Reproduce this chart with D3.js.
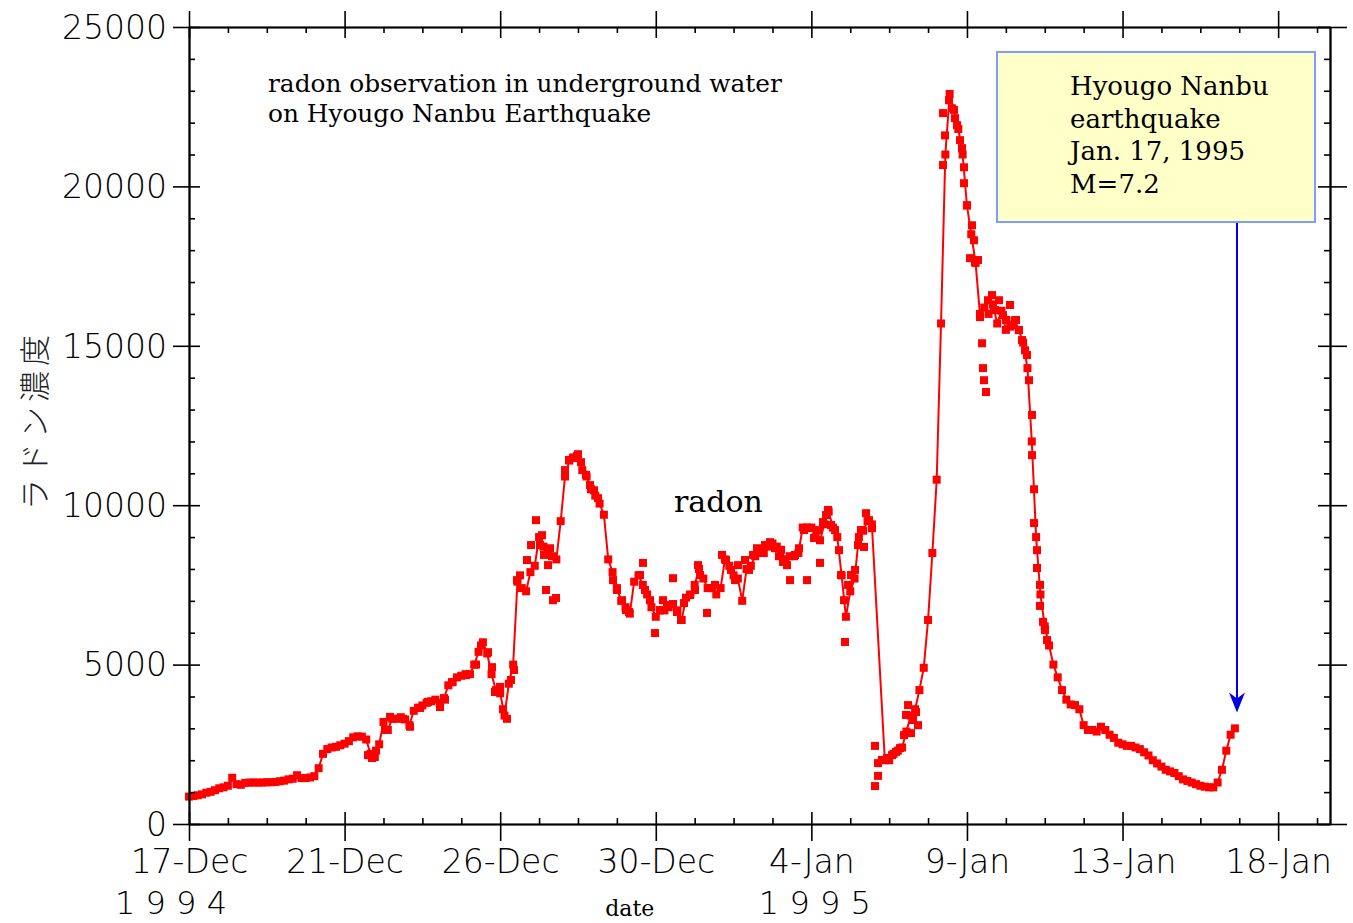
<!DOCTYPE html>
<html><head><meta charset="utf-8">
<script src="https://cdn.jsdelivr.net/npm/d3@7"></script>
<style>body{margin:0;background:#fff;overflow:hidden}</style>
</head><body><svg id="c" width="1353" height="923"></svg>
<script>
// ---- data (days since 17-Dec-1994 00:00, radon counts) ----
const stepDays = 0.125; // 3-hourly samples
const radon = [
  860, 880, 900, 930, 980, 1010, 1060, 1120,
  1150, 1200, 1450, 1250, 1230, 1290, 1300, 1300,
  1300, 1300, 1310, 1310, 1320, 1340, 1360, 1400,
  1420, 1530, 1440, 1440, 1460, 1500, 1750, 2200,
  2350, 2400, 2420, 2470, 2520, 2600, 2720, 2750,
  2740, 2650, 2200, 2100, 2500, 3200, 2950, 3300,
  3300, 3350, 3280, 3100, 3550, 3650, 3720, 3800,
  3850, 3900, 3800, 3950, 4350, 4450, 4600, 4650,
  4700, 4700, 5000, 5400, 5700, 5350, 4700, 4200,
  4100, 3400, 4400, 5000, 7600, 7400, 7300, 7900,
  8100, 9000, 8700, 8500, 8400, 8300, 9500, 10900,
  11400, 11500, 11600, 11100, 10900, 10500, 10300, 10050,
  9700, 8300, 7900, 7400, 7000, 6800, 6600, 7600,
  7800, 7500, 7200, 6800, 6500, 6700, 6700, 6800,
  6900, 6700, 6400, 7100, 7200, 7500, 8000, 7700,
  7400, 7400, 7200, 7400, 8300, 8100, 7800, 7700,
  7000, 8000, 8100, 8400, 8500, 8500, 8700, 8800,
  8700, 8600, 8300, 8400, 8400, 8500, 9300, 9300,
  9300, 9000, 8900, 9400, 9800, 9300, 9000, 7800,
  6500, 7300, 7700, 9000, 9200, 9500, 9400, null,
  null, 2000, 2000, 2200, 2300, 2400, 2900, 3400,
  3600, 4200, 4900, 6400, 8500, 10800, 15700, 21000,
  22900, 22400, 21800, 21000, 19400, 18500, 17600, 16000,
  16200, 16000, 16300, 15700, 16100, 15500, 15600, 15800,
  15500, 15100, 14300, 12000, 9000, 7200, 6200, 5600,
  5000, 4600, 4200, 3900, 3750, 3730, 3600, 3100,
  2950, 2950, 2900, 3050, 2950, 2800, 2700, 2550,
  2500, 2450, 2450, 2400, 2350, 2250, 2150, 2000,
  1900, 1800, 1700, 1650, 1600, 1500, 1400, 1350,
  1300, 1250, 1200, 1170, 1150, 1150, 1300, 1700,
  2300, 2800, 3000
];
// extra (unconnected) hourly readings: [day, value]
const radonScatter = [
  [5.177,2160],[5.293,2070],[5.409,2300],[5.669,2950],[5.814,3360],[6.190,3300],[6.392,3050],
  [6.681,3640],[6.913,3830],[7.260,3670],[7.404,3900],[7.607,4450],[8.012,4670],[8.301,5000],
  [8.446,5600],[8.648,5390],[8.764,4920],[8.850,4140],[8.995,4300],[9.082,3600],[9.197,3300],
  [9.313,4520],[9.400,4830],
  [9.487,7650],[9.574,7800],[9.776,8280],[9.892,8750],[10.036,9530],[10.152,8750],[10.210,9060],
  [10.268,8440],[10.326,7340],[10.384,8120],[10.441,8650],[10.528,7020],[10.615,7090],
  [10.875,11100],[10.990,11420],[11.106,11480],[11.222,11540],[11.338,11350],[11.482,10950],
  [11.598,10630],[11.714,10470],[11.830,10220],
  [12.264,7650],[12.379,7340],[12.524,7020],[12.639,6710],[12.726,6650],
  [13.044,7810],[13.131,8190],[13.189,7340],[13.333,7020],[13.478,5990],[13.623,6710],[13.709,7020],
  [13.825,6870],[13.999,7710],[14.114,6650],[14.230,6400],[14.317,6930],[14.490,7180],[14.635,7340],
  [14.722,8120],[14.780,7810],[14.982,6620],[15.098,7400],[15.213,7500],
  [15.416,8440],[15.531,8280],[15.676,7970],[15.792,7650],[15.879,8120],[16.081,8280],[16.197,7970],
  [16.313,8440],[16.428,8650],[16.544,8530],[16.659,8750],[16.804,8840],[16.949,8650],[17.064,8400],
  [17.180,8220],[17.296,8120],[17.383,7650],[17.527,8440],[17.643,8650],[17.788,9220],[17.875,7650],
  [17.961,9280],[18.077,8970],[18.193,9220],[18.250,8190],[18.337,9470],[18.424,9690],[18.482,9850],
  [18.568,9380],[18.684,9220],[18.800,8590],[18.858,7810],[18.945,7020],[18.973,5710],[19.060,7500],
  [19.147,7810],[19.263,7970],[19.349,8750],[19.436,9220],[19.523,8690],[19.581,9750],[19.667,9530],
  [19.754,9280],
  [19.841,2450],[19.928,1910],[19.928,1510],[19.841,1190],[20.043,2010],[20.188,2070],[20.333,2160],
  [20.448,2260],[20.564,2380],[20.680,2790],[20.738,3420],[20.796,3730],[20.882,2850],[20.940,3260],
  [21.027,3510],[21.085,3100],
  [21.808,20670],[21.865,21600],[21.808,22300],[21.981,22700],[22.068,22450],[22.155,22140],
  [22.213,21920],[22.299,21450],[22.357,21200],[22.415,20600],[22.415,20100],[22.502,19410],
  [22.646,18780],[22.704,18310],[22.589,17750],[22.733,17620],[22.820,17690],[22.878,15900],
  [22.936,15080],[22.964,14300],[22.993,13920],[23.051,13550],
  [23.109,16430],[23.225,16590],[23.312,16120],[23.427,16430],[23.543,15960],[23.630,15810],
  [23.745,16280],[23.832,15650],[23.919,15810],[24.006,15490],[24.093,15180],[24.179,14860],
  [24.237,14710],[24.295,13920],[24.382,12830],[24.382,11570],[24.440,10500],[24.440,9440],
  [24.526,8590],[24.526,8030],[24.613,7500],[24.613,6840],[24.700,6340],[24.758,6080],[24.816,5770]
];
const xTickDays = [0, 4.5, 9, 13.5, 18, 22.5, 27, 31.5];
const xTickLabels = ["17-Dec","21-Dec","26-Dec","30-Dec","4-Jan","9-Jan","13-Jan","18-Jan"];
const yTicks = [0, 5000, 10000, 15000, 20000, 25000];
const yearLabels = [{day: -0.52, text: "1 9 9 4"}, {day: 18.1, text: "1 9 9 5"}];
const quakeDay = 30.31;
const arrowTipValue = 3500;
const noteLines = ["Hyougo Nanbu", "earthquake", "Jan. 17, 1995", "M=7.2"];
const titleLines = ["radon observation in underground water", "on Hyougo Nanbu Earthquake"];

// ---- layout ----
const L = 189, R = 1330, T = 27, B = 824;
const svg = d3.select("#c");
const x = d3.scaleLinear().domain([0, 33]).range([L, R]);
const y = d3.scaleLinear().domain([0, 25000]).range([B, T]);
const sansFont = "'DejaVu Sans', sans-serif";
const serifFont = "'DejaVu Serif', serif";

// ---- data marks ----
const pts = radon.map((v, i) => ({t: i * stepDays, v})).filter(d => d.v !== null);
const red = "#ff0000";
svg.append("path").datum(pts)
  .attr("d", d3.line().x(d => x(d.t)).y(d => y(d.v)))
  .attr("fill", "none").attr("stroke", red).attr("stroke-width", 2);
const ms = 8;
const allPts = pts.concat(radonScatter.map(([t, v]) => ({t, v})));
svg.append("g").selectAll("rect").data(allPts).join("rect")
  .attr("x", d => x(d.t) - ms / 2).attr("y", d => y(d.v) - ms / 2)
  .attr("width", ms).attr("height", ms).attr("fill", red);

// ---- axes ----
const yMinor = d3.range(0, 25001, 1000).filter(v => v % 5000 !== 0);
const xMinor = d3.range(0, 33.01, 1.125).filter(d => xTickDays.indexOf(d) < 0);
function styleAxis(g) {
  g.selectAll("path.domain").attr("stroke", "#000").attr("stroke-width", 1.6);
  g.selectAll("line").attr("stroke", "#000").attr("stroke-width", 1.6);
}
// left
const gl = svg.append("g").attr("transform", `translate(${L},0)`);
gl.call(d3.axisLeft(y).tickValues(yTicks).tickSize(16).tickPadding(6).tickSizeOuter(0).tickFormat(d => String(d)));
gl.append("g").call(d3.axisRight(y).tickValues(yTicks).tickSize(11).tickSizeOuter(0).tickFormat(""));
gl.append("g").call(d3.axisRight(y).tickValues(yMinor).tickSize(6).tickSizeOuter(0).tickFormat(""));
gl.selectAll("text").attr("font-family", sansFont).attr("font-weight", 200)
  .attr("font-size", 33).attr("fill", "#000").attr("dy", "0.34em");
styleAxis(gl);
// right
const gr = svg.append("g").attr("transform", `translate(${R},0)`);
gr.call(d3.axisRight(y).tickValues(yTicks).tickSize(17).tickSizeOuter(0).tickFormat(""));
gr.append("g").call(d3.axisLeft(y).tickValues(yTicks).tickSize(12).tickSizeOuter(0).tickFormat(""));
gr.append("g").call(d3.axisLeft(y).tickValues(yMinor).tickSize(6).tickSizeOuter(0).tickFormat(""));
styleAxis(gr);
// bottom
const gb = svg.append("g").attr("transform", `translate(0,${B})`);
gb.call(d3.axisBottom(x).tickValues(xTickDays).tickSize(17).tickPadding(9).tickSizeOuter(0)
  .tickFormat((d, i) => xTickLabels[i]));
gb.append("g").call(d3.axisTop(x).tickValues(xTickDays).tickSize(12).tickSizeOuter(0).tickFormat(""));
gb.append("g").call(d3.axisTop(x).tickValues(xMinor).tickSize(6).tickSizeOuter(0).tickFormat(""));
gb.selectAll("text").attr("font-family", sansFont).attr("font-weight", 200)
  .attr("font-size", 33).attr("fill", "#000");
styleAxis(gb);
// top
const gt = svg.append("g").attr("transform", `translate(0,${T})`);
gt.call(d3.axisTop(x).tickValues(xTickDays).tickSize(16).tickSizeOuter(0).tickFormat(""));
gt.append("g").call(d3.axisBottom(x).tickValues(xTickDays).tickSize(11).tickSizeOuter(0).tickFormat(""));
gt.append("g").call(d3.axisBottom(x).tickValues(xMinor).tickSize(6).tickSizeOuter(0).tickFormat(""));
styleAxis(gt);

// year labels and axis titles
svg.append("g").selectAll("text").data(yearLabels).join("text")
  .attr("x", d => x(d.day)).attr("y", 914).attr("text-anchor", "middle")
  .attr("font-family", sansFont).attr("font-weight", 200).attr("font-size", 32)
  .style("white-space", "pre").text(d => d.text);
svg.append("text").attr("x", x(13.5) - 26).attr("y", 916).attr("text-anchor", "middle")
  .attr("font-family", serifFont).attr("font-size", 22).text("date");
svg.append("text").attr("transform", "translate(46,420) rotate(-90)")
  .attr("text-anchor", "middle").attr("font-family", "'Noto Sans CJK JP', sans-serif")
  .attr("font-size", 31).attr("font-weight", 300).attr("letter-spacing", 5).attr("fill", "#222")
  .text("ラドン濃度");

// title
svg.append("g").selectAll("text").data(titleLines).join("text")
  .attr("x", 268).attr("y", (d, i) => 92 + i * 30)
  .attr("font-family", serifFont).attr("font-size", 24.8).text(d => d);
// series label
svg.append("text").attr("x", 674).attr("y", 512).attr("font-family", serifFont)
  .attr("font-size", 30).text("radon");

// annotation box
svg.append("rect").attr("x", 997).attr("y", 52).attr("width", 318).attr("height", 170)
  .attr("fill", "#ffffc8").attr("stroke", "#7f9cff").attr("stroke-width", 2);
svg.append("g").selectAll("text").data(noteLines).join("text")
  .attr("x", 1070).attr("y", (d, i) => 95 + i * 32.7)
  .attr("font-family", serifFont).attr("font-size", 26).text(d => d);
// arrow
const ax = x(quakeDay), tipY = y(arrowTipValue);
svg.append("line").attr("x1", ax).attr("x2", ax).attr("y1", 223).attr("y2", tipY - 8)
  .attr("stroke", "#0000e0").attr("stroke-width", 2);
svg.append("path")
  .attr("d", `M${ax},${tipY} L${ax - 8},${tipY - 20} L${ax},${tipY - 14} L${ax + 8},${tipY - 20} Z`)
  .attr("fill", "#0000e0");
</script>
</body></html>
